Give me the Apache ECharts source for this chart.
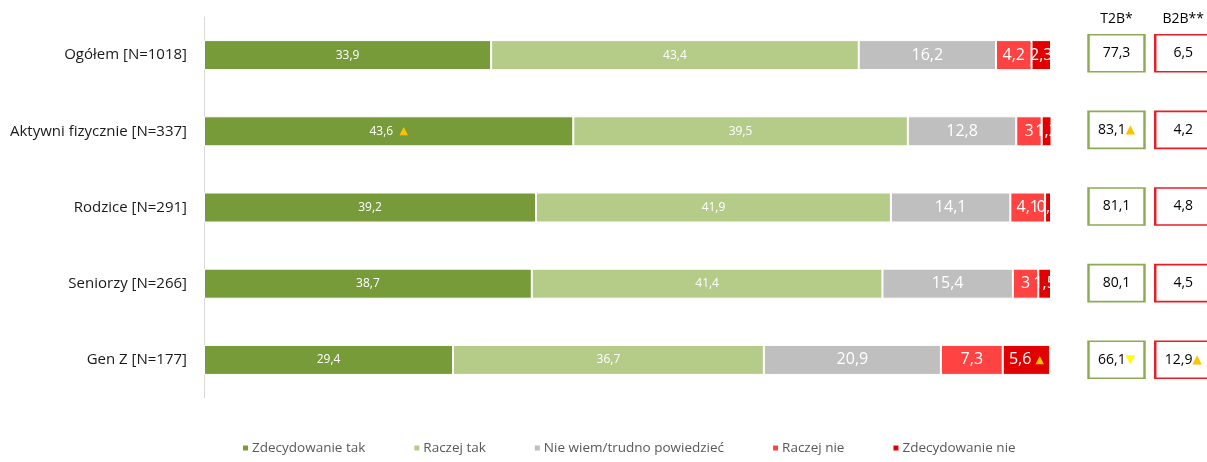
<!DOCTYPE html>
<html>
<head>
<meta charset="utf-8">
<script src="https://cdn.jsdelivr.net/npm/echarts@6/dist/echarts.min.js"></script>
<style>
  html, body { margin: 0; padding: 0; background: #fff; }
  #chart { width: 1207px; height: 462px; }
</style>
</head>
<body>
<div id="chart"></div>
<script>
// dane z wykresu
var groups = ["Ogółem [N=1018]", "Aktywni fizycznie [N=337]", "Rodzice [N=291]", "Seniorzy [N=266]", "Gen Z [N=177]"];
var seriesNames = ["Zdecydowanie tak", "Raczej tak", "Nie wiem/trudno powiedzieć", "Raczej nie", "Zdecydowanie nie"];
var zdecydowanieTak = [33.9, 43.6, 39.2, 38.7, 29.4];
var raczejTak = [43.4, 39.5, 41.9, 41.4, 36.7];
var nieWiem = [16.2, 12.8, 14.1, 15.4, 20.9];
var raczejNie = [4.2, 3, 4.1, 3, 7.3];
var zdecydowanieNie = [2.3, 1.2, 0.7, 1.5, 5.6];
// znaczniki istotnych różnic: "up" / "down" / ""
var zdecydowanieTakMark = ["", "up", "", "", ""];
var zdecydowanieNieMark = ["", "", "", "", "up"];
var boxHeaders = ["T2B*", "B2B**"];
var t2b = [77.3, 83.1, 81.1, 80.1, 66.1];
var b2b = [6.5, 4.2, 4.8, 4.5, 12.9];
var t2bMark = ["", "up", "", "", "down"];
var b2bMark = ["", "", "", "", "up"];

var colors = ["#789B3A", "#B5CC89", "#BFBFBF", "#FF4343", "#E00000"];
var FONT = "'Open Sans', 'Noto Sans', sans-serif";

function fmt(v) {
  return String(v).replace(".", ",");
}

var markRich = {
  up: { color: "#FFC000", fontSize: 11, fontFamily: "DejaVu Sans" },
  down: { color: "#FFFF00", fontSize: 11, fontFamily: "DejaVu Sans" }
};

function barLabel(marks, size, sep) {
  return {
    show: true,
    position: "inside",
    color: "#fff",
    fontSize: size,
    fontFamily: FONT,
    formatter: function (p) {
      var s = fmt(p.value);
      var m = marks ? marks[p.dataIndex] : "";
      if (m === "up") s += sep + "{up|▲}";
      if (m === "down") s += sep + "{down|▼}";
      return s;
    },
    rich: markRich
  };
}

var allValues = [zdecydowanieTak, raczejTak, nieWiem, raczejNie, zdecydowanieNie];
var allMarks = [zdecydowanieTakMark, null, null, null, zdecydowanieNieMark];
var labelSizes = [12, 12, 16, 16, 16];
var markSep = ["  ", "", "", "", " "];

var series = allValues.map(function (vals, i) {
  return {
    name: seriesNames[i],
    type: "bar",
    stack: "total",
    xAxisIndex: 0,
    yAxisIndex: 0,
    barWidth: 30,
    data: vals,
    itemStyle: { color: colors[i], borderColor: "#fff", borderWidth: 1 },
    label: barLabel(allMarks[i], labelSizes[i], markSep[i]),
    emphasis: { disabled: true }
  };
});

function boxSeries(col, vals, marks, border) {
  return {
    type: "scatter",
    xAxisIndex: 1,
    yAxisIndex: 1,
    symbol: "rect",
    symbolSize: [56, 37],
    clip: false,
    data: vals.map(function (v, i) { return [col, i, v]; }),
    itemStyle: { color: "#fff", borderColor: border, borderWidth: 2, opacity: 1 },
    label: {
      show: true,
      position: "inside",
      color: "#000",
      fontSize: 14,
      fontFamily: FONT,
      formatter: function (p) {
        var s = fmt(p.value[2]);
        var m = marks[p.dataIndex];
        if (m === "up") s += "{up|▲}";
        if (m === "down") s += "{down|▼}";
        return s;
      },
      rich: {
        up: { color: "#FFC000", fontSize: 12, fontFamily: "DejaVu Sans" },
        down: { color: "#FFFF00", fontSize: 12, fontFamily: "DejaVu Sans" }
      }
    },
    emphasis: { disabled: true },
    z: 5
  };
}

series.push(boxSeries(0, t2b, t2bMark, "#8DAA55"));
series.push(boxSeries(1, b2b, b2bMark, "#E61E26"));

var chart = echarts.init(document.getElementById("chart"));
chart.setOption({
  animation: false,
  textStyle: { fontFamily: FONT },
  grid: [
    { left: 204, width: 847, top: 17, bottom: 64 },
    { left: 1116.5, width: 68, top: 15, bottom: 64 }
  ],
  xAxis: [
    { gridIndex: 0, type: "value", min: 0, max: 100, show: false },
    {
      gridIndex: 1, type: "category", data: boxHeaders, position: "top", boundaryGap: false,
      axisLine: { show: false }, axisTick: { show: false }, splitLine: { show: false },
      axisLabel: { color: "#000", fontSize: 14, fontFamily: FONT, margin: -11 }
    }
  ],
  yAxis: [
    {
      gridIndex: 0, type: "category", data: groups, inverse: true,
      axisLine: { show: true, lineStyle: { color: "#D9D9D9", width: 1 } },
      axisTick: { show: false },
      axisLabel: { color: "#1a1a1a", fontSize: 15, fontFamily: FONT, margin: 17 }
    },
    {
      gridIndex: 1, type: "category", data: groups, inverse: true, show: false
    }
  ],
  legend: {
    data: seriesNames,
    bottom: 2,
    left: 236,
    itemWidth: 7,
    itemHeight: 7,
    itemGap: 47,
    icon: "rect",
    textStyle: { color: "#595959", fontSize: 13.5, fontFamily: FONT, padding: [0, 0, 0, -2] }
  },
  graphic: [
    // obszar wykresu przycina etykiety wychodzące poza 100%
    { type: "rect", left: 1052, top: 0, shape: { width: 32, height: 400 }, style: { fill: "#fff" }, z: 100, silent: true }
  ],
  series: series
});
</script>
</body>
</html>
